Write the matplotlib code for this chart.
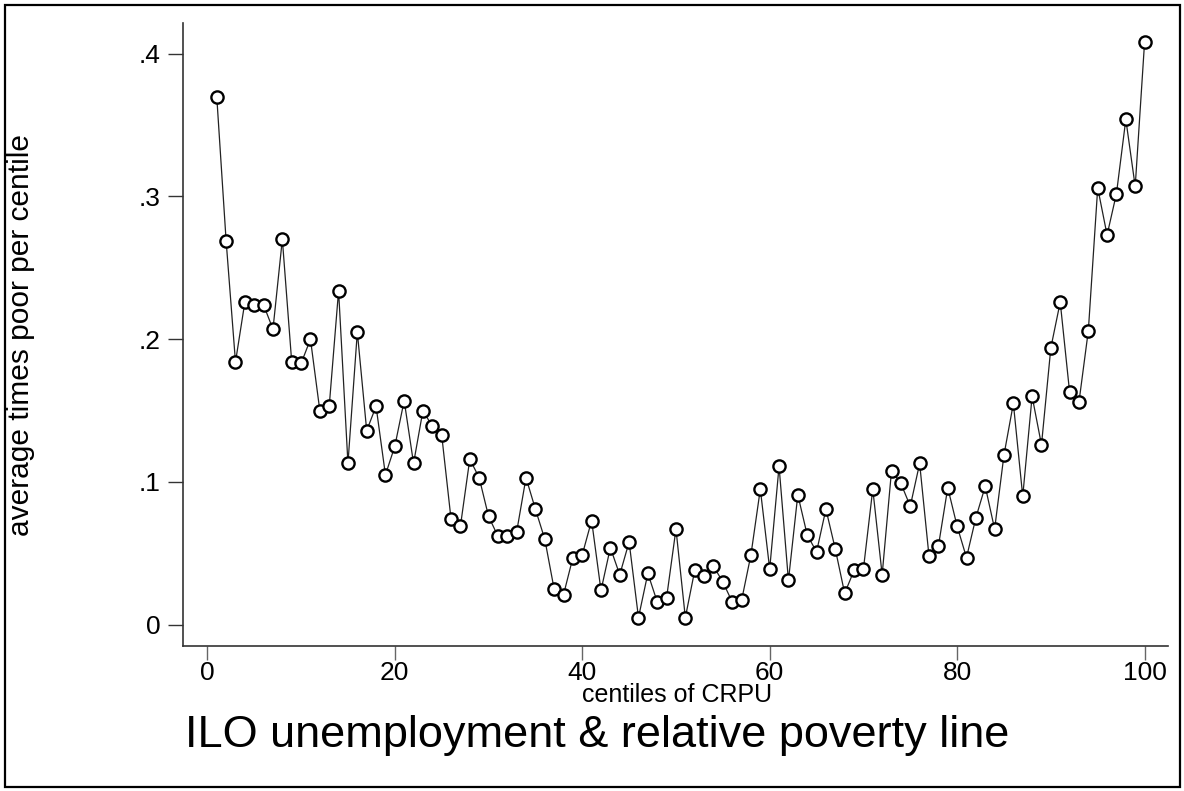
import matplotlib
matplotlib.use("Agg")
import matplotlib.pyplot as plt
from matplotlib.patches import Rectangle

# centiles of CRPU and average times poor in each centile
centiles = list(range(1, 101))
times_poor = [
    0.370, 0.269, 0.184, 0.226, 0.224, 0.224, 0.207, 0.270, 0.184, 0.183,
    0.200, 0.150, 0.153, 0.234, 0.113, 0.205, 0.136, 0.153, 0.105, 0.125,
    0.157, 0.113, 0.150, 0.139, 0.133, 0.074, 0.069, 0.116, 0.103, 0.076,
    0.062, 0.062, 0.065, 0.103, 0.081, 0.060, 0.025, 0.021, 0.047, 0.049,
    0.073, 0.024, 0.054, 0.035, 0.058, 0.005, 0.036, 0.016, 0.019, 0.067,
    0.005, 0.038, 0.034, 0.041, 0.030, 0.016, 0.017, 0.049, 0.095, 0.039,
    0.111, 0.031, 0.091, 0.063, 0.051, 0.081, 0.053, 0.022, 0.038, 0.039,
    0.095, 0.035, 0.108, 0.099, 0.083, 0.113, 0.048, 0.055, 0.096, 0.069,
    0.047, 0.075, 0.097, 0.067, 0.119, 0.155, 0.090, 0.160, 0.126, 0.194,
    0.226, 0.163, 0.156, 0.206, 0.306, 0.273, 0.302, 0.354, 0.307, 0.408,
]
yticks = [0, 0.1, 0.2, 0.3, 0.4]
ytick_labels = ["0", ".1", ".2", ".3", ".4"]
xticks = [0, 20, 40, 60, 80, 100]

plt.rcParams["font.family"] = ["Liberation Sans", "DejaVu Sans"]

fig = plt.figure(figsize=(11.84, 7.91), dpi=100)
ax = fig.add_axes([183 / 1184, 1 - 646 / 791, (1168 - 183) / 1184, (646 - 23) / 791])

ax.plot(centiles, times_poor, color="#222222", linewidth=0.9, zorder=2)
ax.plot(centiles, times_poor, linestyle="none", marker="o", markersize=8.8,
        markerfacecolor="white", markeredgecolor="black", markeredgewidth=1.7, zorder=3)

ax.set_xlim(-2.6, 102.5)
ax.set_ylim(-0.0149, 0.4215)

ax.set_yticks(yticks)
ax.set_yticklabels(ytick_labels)
ax.set_xticks(xticks)
ax.set_xticklabels([str(t) for t in xticks])

ax.tick_params(axis="y", length=11, width=1, color="#333333", labelsize=19, pad=5)
ax.tick_params(axis="x", length=10, width=1, color="#666666", labelsize=19, pad=1)

for side in ("top", "right"):
    ax.spines[side].set_visible(False)
for side in ("left", "bottom"):
    ax.spines[side].set_linewidth(1.2)
    ax.spines[side].set_color("#333333")

fig.text(21 / 1184, 1 - 335 / 791, "average times poor per centile", rotation=90,
         ha="center", va="center", fontsize=21.5)
fig.text(677 / 1184, 1 - 695 / 791, "centiles of CRPU", ha="center", va="center",
         fontsize=18)
fig.text(185 / 1184, 1 - 736 / 791, "ILO unemployment & relative poverty line",
         ha="left", va="center", fontsize=32.5)

# frame round the whole graph
fig.patches.append(Rectangle((5 / 1184, 4 / 791), 1175 / 1184, 782 / 791,
                             transform=fig.transFigure, fill=False,
                             edgecolor="black", linewidth=1.6))

fig.savefig("out.png", dpi=100)
